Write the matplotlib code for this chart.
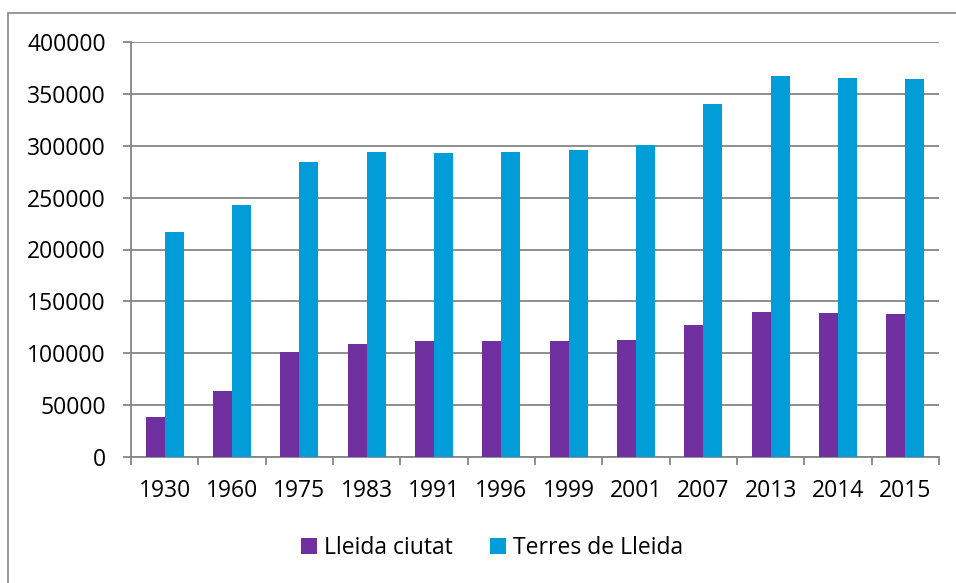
import numpy as np
import matplotlib.pyplot as plt
from matplotlib.patches import Rectangle

plt.rcParams["font.family"] = ["Open Sans", "DejaVu Sans"]

years = ["1930", "1960", "1975", "1983", "1991", "1996", "1999", "2001",
         "2007", "2013", "2014", "2015"]
lleida_ciutat = [38600, 63600, 100900, 108900, 111500, 111500, 112100, 112800,
                 127200, 139500, 138800, 138100]
terres_lleida = [216900, 242600, 284300, 293700, 292700, 294000, 296200, 300400,
                 340500, 367200, 365300, 364000]

purple = "#7030A0"
blue = "#009DD9"
grey = "#868686"
fs = 16.5

fig = plt.figure(figsize=(9.56, 5.83), dpi=100)
# outer chart border
fig.patches.append(Rectangle((8 / 956, -0.05), 1.2, 1 - 13 / 583 + 0.05,
                             transform=fig.transFigure, fill=False,
                             edgecolor=grey, lw=1.2))

ax = fig.add_axes([131 / 956, 1 - 457 / 583, (939 - 131) / 956, (457 - 42) / 583])

x = np.arange(len(years))
w = 0.283
ax.bar(x - w / 2, lleida_ciutat, w, color=purple, label="Lleida ciutat", zorder=3)
ax.bar(x + w / 2, terres_lleida, w, color=blue, label="Terres de Lleida", zorder=3)

ax.set_xlim(-0.5, len(years) - 0.5)
ax.set_ylim(0, 400000)
ax.set_yticks(np.arange(0, 400001, 50000))
ax.yaxis.grid(True, color=grey, lw=1.3, zorder=0)

ax.set_xticks(x)
ax.set_xticklabels(years)
ax.set_xticks(np.arange(-0.5, len(years)), minor=True)
ax.tick_params(axis="x", which="major", length=0, pad=16, labelsize=fs)
ax.tick_params(axis="x", which="minor", length=6, width=1.3, color=grey, direction="out")
ax.tick_params(axis="y", length=6, width=1.3, color=grey, pad=12, labelsize=fs)

for s in ["top", "right"]:
    ax.spines[s].set_visible(False)
for s in ["left", "bottom"]:
    ax.spines[s].set_color(grey)
    ax.spines[s].set_linewidth(1.3)

fig.legend(loc="center", bbox_to_anchor=(492 / 956, 1 - 548 / 583), ncol=2,
           frameon=False, fontsize=fs, handlelength=0.7, handleheight=0.7,
           handletextpad=0.3, columnspacing=1.6)

fig.savefig("out.png", dpi=100)
